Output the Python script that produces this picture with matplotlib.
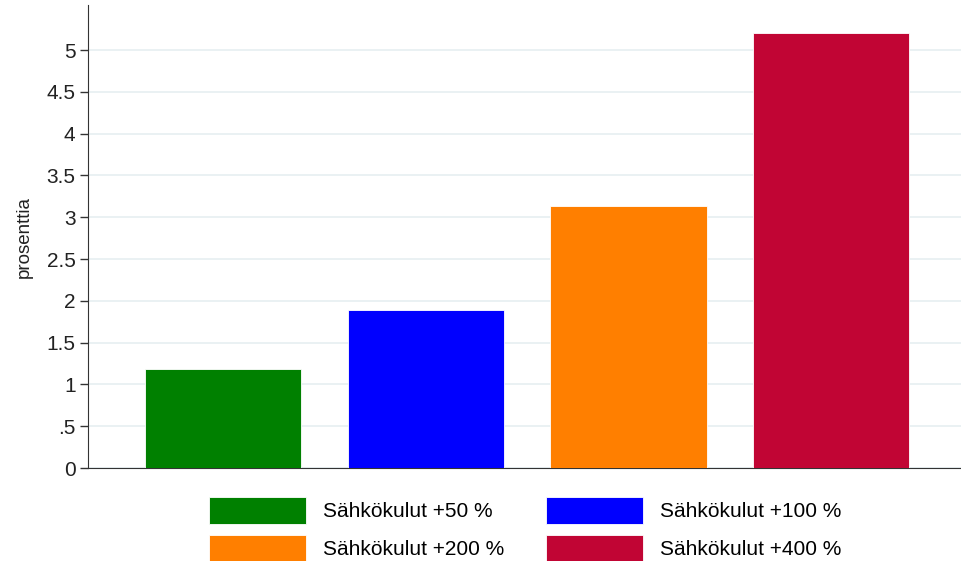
import numpy as np
from matplotlib import pyplot as plt

plt.rcParams['font.family'] = ['Liberation Sans', 'DejaVu Sans']

# Data
labels = ["Sähkökulut +50 %", "Sähkökulut +100 %", "Sähkökulut +200 %", "Sähkökulut +400 %"]
values = [1.18, 1.89, 3.13, 5.20]
colors = ["#008000", "#0000ff", "#ff7f00", "#c10534"]
yticks = [0, 0.5, 1, 1.5, 2, 2.5, 3, 3.5, 4, 4.5, 5]
yticklabels = ["0", ".5", "1", "1.5", "2", "2.5", "3", "3.5", "4", "4.5", "5"]

fig = plt.figure(figsize=(9.61, 5.61), dpi=100)
ax = fig.add_axes([88/961, 93/561, 873/961, 463/561])

x = np.arange(1, len(values) + 1)
bars = ax.bar(x, values, width=0.77, color=colors, edgecolor="white", linewidth=0.6,
              zorder=3)

ax.set_xlim(0.334, 4.64)
ax.set_ylim(0, 5.54)
ax.set_yticks(yticks)
ax.set_yticklabels(yticklabels, fontsize=15, color="#222222")
ax.set_xticks([])
ax.grid(axis="y", color="#e6eff1", linewidth=1.2, zorder=0)
ax.set_ylabel("prosenttia", fontsize=13.5, color="#222222", labelpad=10)

for s in ["top", "right"]:
    ax.spines[s].set_visible(False)
ax.spines["left"].set_color("#333333")
ax.spines["bottom"].set_color("#333333")
ax.tick_params(axis="y", length=6, width=1, color="#333333", pad=3)

# legend fills column-wise, so reorder to get rows: 50/100, 200/400
order = [0, 2, 1, 3]
fig.legend([bars[i] for i in order], [labels[i] for i in order],
           loc="upper left", bbox_to_anchor=(190/961, 1 - 478/561),
           ncol=2, frameon=False, fontsize=15, handlelength=4.66, handleheight=1.62,
           handletextpad=0.82, columnspacing=2.0, labelspacing=0.53)

fig.savefig("out.png", dpi=100)
